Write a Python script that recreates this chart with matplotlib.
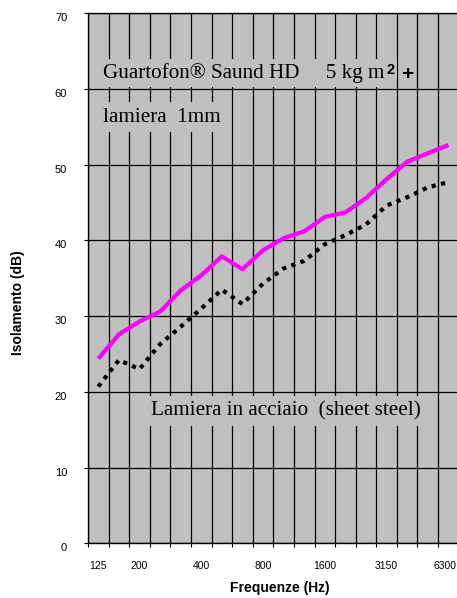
import matplotlib
matplotlib.use("Agg")
import matplotlib.pyplot as plt
import matplotlib.transforms as mtransforms

# third-octave bands, 125 Hz - 6300 Hz
bands = ["125", "160", "200", "250", "315", "400", "500", "630", "800",
         "1000", "1250", "1600", "2000", "2500", "3150", "4000", "5000", "6300"]
shown_labels = ["125", "200", "400", "800", "1600", "3150", "6300"]

guartofon = [24.4, 27.6, 29.3, 30.6, 33.4, 35.4, 37.9, 36.2, 38.7, 40.3,
             41.2, 43.1, 43.7, 45.6, 48.1, 50.4, 51.5, 52.6]
lamiera = [20.7, 24.2, 23.0, 26.3, 28.6, 31.0, 33.5, 31.6, 34.3, 36.3,
           37.3, 39.5, 40.7, 42.1, 44.6, 45.7, 47.0, 47.7]

y_ticks = [0, 10, 20, 30, 40, 50, 60, 70]

grey = "#C0C0C0"
serif = "Liberation Serif"
sans = "Liberation Sans"

fig = plt.figure(figsize=(4.57, 5.98), dpi=100)
ax = fig.add_axes([0.1926, 0.0915, 0.811, 0.8863])
ax.set_facecolor(grey)

x = list(range(len(bands)))
ax.plot(x, guartofon, color="#FF00FF", lw=3, solid_capstyle="butt", zorder=4)
ax.plot(x, lamiera, color="black", lw=3, linestyle=(0, (1, 1.3)),
        dash_capstyle="butt", zorder=4)

ax.set_xlim(-0.5, len(bands) - 0.5)
ax.set_ylim(0, 70)

# grid: boundaries between bands and every 10 dB
ax.set_xticks([i - 0.5 for i in range(len(bands) + 1)])
ax.set_xticklabels([])
ax.set_xticks([i for i, b in enumerate(bands) if b in shown_labels], minor=True)
ax.set_xticklabels(shown_labels, minor=True)
ax.tick_params(axis="x", which="major", length=3, width=0.8, direction="out")
ax.tick_params(axis="x", which="minor", length=0, pad=13, labelsize=7.5)
ax.set_yticks(y_ticks)
ax.tick_params(axis="y", length=3, width=0.8, pad=12, labelsize=8)
for lab in ax.get_xticklabels(minor=True) + ax.get_yticklabels():
    lab.set_fontfamily(sans)
off = mtransforms.ScaledTranslation(0, -4 / 100, fig.dpi_scale_trans)
for lab in ax.get_yticklabels():
    lab.set_transform(lab.get_transform() + off)
last = ax.get_xticklabels(minor=True)[-1]
last.set_transform(last.get_transform() +
                   mtransforms.ScaledTranslation(-3 / 100, 0, fig.dpi_scale_trans))

ax.grid(True, which="major", color="black", lw=0.9)
ax.set_axisbelow(True)
for s in ["left", "bottom", "top"]:
    ax.spines[s].set_color("black")
    ax.spines[s].set_linewidth(1)
ax.spines["right"].set_visible(False)

fs = 15.2
t1 = ax.text(0.0405, 0.878, "Guartofon® Saund HD     5 kg m", transform=ax.transAxes,
             family=serif, fontsize=fs, va="baseline", ha="left",
             bbox=dict(facecolor=grey, edgecolor="none", pad=3), zorder=3)
t2 = ax.annotate("2", xy=(1, 0), xycoords=t1, xytext=(1.5, 6.5), textcoords="offset points",
                 family=sans, fontweight="bold", fontsize=10.5, va="baseline", ha="left",
                 bbox=dict(facecolor=grey, edgecolor="none", pad=1.5), zorder=3.1)
ax.annotate("+", xy=(1, 0), xycoords=t2, xytext=(4.5, -2.2), textcoords="offset points",
            family=sans, fontweight="bold", fontsize=15, va="baseline", ha="left",
            bbox=dict(facecolor=grey, edgecolor="none", pad=1), zorder=3.2)
box = dict(facecolor=grey, edgecolor="none", pad=4)
ax.text(0.0405, 0.795, "lamiera  1mm", transform=ax.transAxes,
        family=serif, fontsize=fs, va="baseline", ha="left", bbox=box, zorder=3)
ax.text(0.170, 0.2408, "Lamiera in acciaio  (sheet steel)", transform=ax.transAxes,
        family=serif, fontsize=fs, va="baseline", ha="left", bbox=box, zorder=3)

fig.text(280 / 457, 1 - 588 / 598, "Frequenze (Hz)", family=sans, fontweight="bold",
         fontsize=10, ha="center", va="center")
fig.text(18 / 457, 1 - 303 / 598, "Isolamento (dB)", family=sans, fontweight="bold",
         fontsize=10, ha="center", va="center", rotation=90)

fig.savefig("out.png", dpi=100, facecolor="white")
